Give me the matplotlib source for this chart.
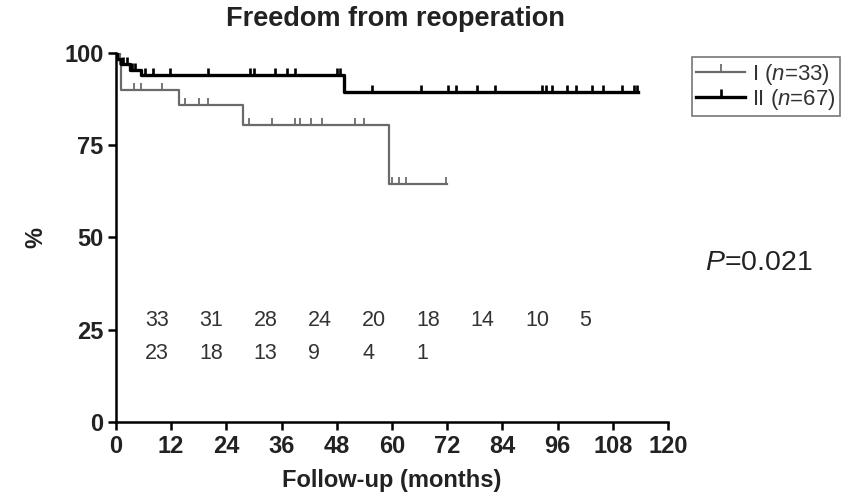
import numpy as np
import matplotlib
matplotlib.use("Agg")
import matplotlib.pyplot as plt
from matplotlib.lines import Line2D

plt.rcParams['font.family'] = ['Liberation Sans', 'DejaVu Sans']
plt.rcParams['mathtext.fontset'] = 'custom'
plt.rcParams['mathtext.rm'] = 'Liberation Sans'
plt.rcParams['mathtext.it'] = 'Liberation Sans:italic'

# Kaplan-Meier steps (months, % free from reoperation)
times_I = [0, 0.8, 1.2, 13.7, 27.7, 59.3, 72.0]
surv_I = [100, 96.9, 90.0, 86.0, 80.4, 64.4, 64.4]
censor_I = [4.0, 5.5, 10.0, 15.0, 18.0, 20.0, 29.0, 34.0, 39.0, 40.0,
            42.5, 44.7, 52.0, 54.0, 60.0, 61.5, 63.0, 71.8]

times_II = [0, 0.3, 1.0, 3.0, 5.4, 49.6, 113.5]
surv_II = [100, 98.5, 97.0, 95.5, 94.0, 89.3, 89.3]
censor_II = [0.2, 1.5, 2.4, 3.5, 4.2, 6.3, 8.1, 11.7, 20.1, 29.1, 30.0,
             34.5, 37.1, 38.9, 48.0, 48.7, 55.6, 66.4, 72.2, 74.0, 78.4,
             82.4, 92.5, 93.5, 94.7, 98.0, 100.1, 103.4, 105.9, 109.9,
             112.5, 113.2]

# numbers at risk
at_risk_II = [33, 31, 28, 24, 20, 18, 14, 10, 5]
at_risk_I = [23, 18, 13, 9, 4, 1]

x_ticks = [0, 12, 24, 36, 48, 60, 72, 84, 96, 108, 120]
y_ticks = [0, 25, 50, 75, 100]

labels = ["I ($\\mathit{n}$=33)", "II ($\\mathit{n}$=67)"]
colors = ["#6a6a6a", "#000000"]
widths = [1.6, 2.4]

fig = plt.figure(figsize=(8.68, 4.97), dpi=100)
ax = fig.add_axes([0.1336, 0.1509, 0.636, 0.7425])


def level_at(times, surv, t):
    idx = np.searchsorted(times, t, side='right') - 1
    return np.asarray(surv)[idx]


groups = [(times_I, surv_I, censor_I), (times_II, surv_II, censor_II)]
for (t, s, c), col, lw in zip(groups, colors, widths):
    ax.step(t, s, where='post', color=col, lw=lw, zorder=3 if col == "#000000" else 2)
    ax.plot(c, level_at(t, s, c), linestyle='none', marker=2,
            markersize=5, markeredgewidth=lw * 0.8, color=col, zorder=4)

ax.set_xlim(0, 120)
ax.set_ylim(0, 100)
ax.set_xticks(x_ticks)
ax.set_yticks(y_ticks)
ax.spines['top'].set_visible(False)
ax.spines['right'].set_visible(False)
for sp in ('left', 'bottom'):
    ax.spines[sp].set_linewidth(1.8)
ax.tick_params(direction='out', length=6, width=1.8, labelsize=17, pad=3)
for lab in ax.get_xticklabels() + ax.get_yticklabels():
    lab.set_fontweight('bold')
    lab.set_color('#222222')
ax.set_xlabel('Follow-up (months)', fontsize=17, fontweight='bold', labelpad=8, color='#222222')
ax.set_ylabel('%', fontsize=17, fontweight='bold', labelpad=12, color='#222222')

# numbers at risk rows
for i, n in enumerate(at_risk_II):
    ax.text(6.3 + 11.8 * i, 27.5, str(n), fontsize=15.5, ha='left', va='center', color='#333333')
for i, n in enumerate(at_risk_I):
    ax.text(6.3 + 11.8 * i, 18.5, str(n), fontsize=15.5, ha='left', va='center', color='#333333')

fig.text(0.455, 0.962, 'Freedom from reoperation', fontsize=19.5, fontweight='bold',
         ha='center', va='center', color='#222222')

fig.text(0.812, 0.47, '$\\mathit{P}$=0.021', fontsize=20.5, ha='left', va='center', color='#222222')

handles = [Line2D([], [], color=c, lw=w, marker=2, markersize=6,
                  markeredgewidth=w * 0.8) for c, w in zip(colors, widths)]
leg = fig.legend(handles, labels, loc='upper left', bbox_to_anchor=(0.797, 0.885),
                 numpoints=1, fontsize=16, frameon=True, fancybox=False,
                 handlelength=2.2, handletextpad=0.3, borderpad=0.2,
                 labelspacing=0.0, borderaxespad=0)
leg.get_frame().set_edgecolor('#555555')
leg.get_frame().set_linewidth(1.2)
for txt in leg.get_texts():
    txt.set_color('#333333')

fig.savefig('out.png', dpi=100)
